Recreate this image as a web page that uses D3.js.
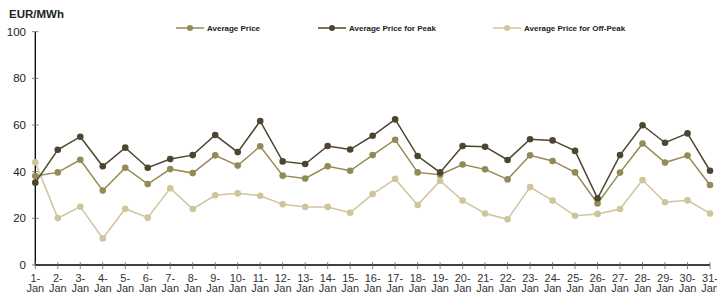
<!DOCTYPE html>
<html><head><meta charset="utf-8">
<script src="https://cdn.jsdelivr.net/npm/d3@7"></script>
<style>body{margin:0;background:#fff;}svg{display:block;font-family:Arial,"Liberation Sans",sans-serif;}</style>
</head><body><svg id="c" width="717" height="296"></svg>
<script>
const days = d3.range(1, 32).map(d => d + "-Jan");
const avgPrice = [38.1,39.7,45.1,31.9,41.7,34.7,41.1,39.4,47.0,42.6,50.9,38.3,37.1,42.3,40.4,47.1,53.7,39.7,38.7,43.1,41.0,36.7,47.0,44.6,39.7,26.4,39.6,52.1,43.9,46.9,34.3];
const peakPrice = [35.3,49.4,55.0,42.3,50.3,41.7,45.4,47.1,55.7,48.4,61.7,44.4,43.3,51.0,49.5,55.4,62.4,46.7,39.7,51.0,50.7,45.0,53.9,53.4,48.9,28.6,47.1,59.9,52.4,56.4,40.4];
const offPeakPrice = [44.0,20.1,25.0,11.4,24.1,20.3,32.9,24.0,29.9,30.7,29.7,26.0,24.9,24.9,22.4,30.4,36.9,25.7,36.1,27.6,22.1,19.6,33.4,27.6,21.1,21.9,24.0,36.4,26.9,27.7,22.1];
const yTicks = [0,20,40,60,80,100];
const seriesNames = ["Average Price","Average Price for Peak","Average Price for Off-Peak"];
const seriesColors = ["#948a56","#4e4530","#cfc59b"];

const svg = d3.select("#c");
const x = d3.scalePoint().domain(days).range([35.3, 710]);
const y = d3.scaleLinear().domain([0,100]).range([265, 31.7]);

// title
svg.append("text").attr("x",9).attr("y",18).attr("font-size",11.5).attr("font-weight","bold").attr("fill","#222").text("EUR/MWh");

// y axis
const g = svg.append("g");
g.append("line").attr("x1",35.3).attr("x2",35.3).attr("y1",y(100)).attr("y2",y(0)).attr("stroke","#000").attr("stroke-width",1.3);
yTicks.forEach(t=>{
  g.append("line").attr("x1",32).attr("x2",38.5).attr("y1",y(t)).attr("y2",y(t)).attr("stroke","#666").attr("stroke-width",0.8);
  g.append("text").attr("x",26).attr("y",y(t)+4).attr("text-anchor","end").attr("font-size",11.5).attr("fill","#222").text(t);
});
// x axis
g.append("line").attr("x1",35.3).attr("x2",710).attr("y1",y(0)).attr("y2",y(0)).attr("stroke","#000").attr("stroke-width",1.3);
days.forEach(d=>{
  const xx = x(d);
  g.append("line").attr("x1",xx).attr("x2",xx).attr("y1",y(0)-3).attr("y2",y(0)+4).attr("stroke","#666").attr("stroke-width",0.8);
  const parts = d.split("-");
  const t = g.append("text").attr("text-anchor","middle").attr("font-size",11).attr("fill","#333");
  t.append("tspan").attr("x",xx).attr("y",281.5).text(parts[0]+"-");
  t.append("tspan").attr("x",xx).attr("y",292).text(parts[1]);
});

const data = [avgPrice, peakPrice, offPeakPrice];
const line = d3.line().x((v,i)=>x(days[i])).y(v=>y(v));
[2,0,1].forEach(k=>{
  svg.append("path").attr("d",line(data[k])).attr("fill","none").attr("stroke",seriesColors[k]).attr("stroke-width",1.5);
  svg.selectAll(null).data(data[k]).enter().append("circle")
    .attr("cx",(v,i)=>x(days[i])).attr("cy",v=>y(v)).attr("r",3.3).attr("fill",seriesColors[k]);
});

// legend
const legX = [176, 318, 493];
seriesNames.forEach((n,k)=>{
  const lg = svg.append("g").attr("transform",`translate(${legX[k]},28)`);
  lg.append("line").attr("x1",0).attr("x2",28).attr("stroke",seriesColors[k]).attr("stroke-width",1.5);
  lg.append("circle").attr("cx",14).attr("r",3).attr("fill",seriesColors[k]);
  lg.append("text").attr("x",31).attr("y",3).attr("font-size",8).attr("font-weight","bold").attr("fill","#222").text(n);
});
</script></body></html>
